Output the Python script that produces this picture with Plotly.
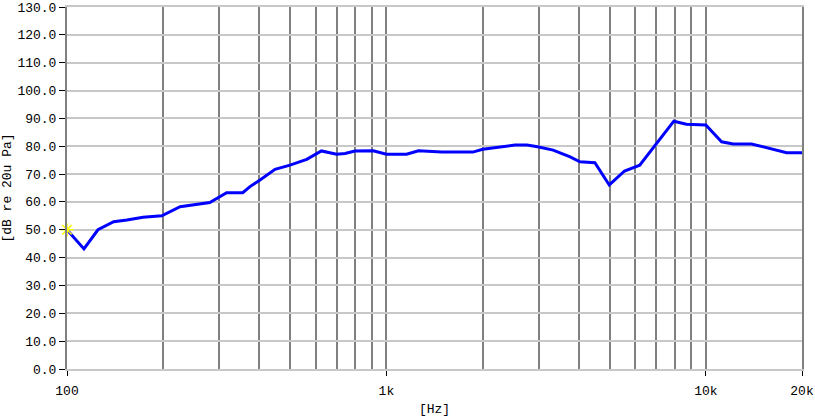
import plotly.graph_objects as go

freq_hz = [100, 113, 125, 140, 154, 173, 198, 226, 280, 316, 355, 374, 402, 448, 499, 563,
           626, 652, 698, 742, 797, 909, 1000, 1156, 1260, 1490, 1864, 2003, 2526, 2755,
           2973, 3326, 3760, 4035, 4494, 4985, 5565, 6208, 6823, 7940, 8690, 10000, 11200,
           12180, 13900, 15500, 17900, 20000]
level_db = [50.0, 43.1, 50.0, 52.9, 53.5, 54.5, 55.0, 58.3, 59.8, 63.3, 63.3, 65.5, 67.9, 71.7,
            73.2, 75.3, 78.3, 77.9, 77.1, 77.4, 78.3, 78.4, 77.1, 77.1, 78.4, 77.9, 77.9,
            78.9, 80.4, 80.4, 79.8, 78.6, 76.2, 74.4, 74.1, 66.1, 71.1, 73.2, 79.2, 89.0,
            87.9, 87.6, 81.6, 80.8, 80.8, 79.5, 77.7, 77.7]

x_major = [100, 1000, 10000, 20000]
x_major_text = ["100", "1k", "10k", "20k"]
x_minor = [200, 300, 400, 500, 600, 700, 800, 900,
           2000, 3000, 4000, 5000, 6000, 7000, 8000, 9000]
y_ticks = [0, 10, 20, 30, 40, 50, 60, 70, 80, 90, 100, 110, 120, 130]
y_tick_text = ["%.1f" % v for v in y_ticks]

fig = go.Figure()
fig.add_trace(go.Scatter(x=freq_hz, y=level_db, mode="lines",
                         line=dict(color="#0000ff", width=3), showlegend=False))
fig.add_trace(go.Scatter(x=[freq_hz[0]], y=[level_db[0]], mode="markers",
                         marker=dict(symbol="asterisk-open", size=11, color="#ffff00",
                                     line=dict(color="#ffff00", width=1.5)),
                         showlegend=False, cliponaxis=False))

font = dict(family="Liberation Mono, DejaVu Sans Mono, monospace", size=13, color="#000000")

fig.update_layout(
    width=815, height=420,
    margin=dict(l=67, r=13, t=7, b=51),
    paper_bgcolor="white", plot_bgcolor="white",
    font=font,
    xaxis=dict(type="log", range=[2, 4.30103], automargin=False,
               tickvals=x_major, ticktext=x_major_text,
               ticks="outside", ticklen=5, tickcolor="#000000", tickwidth=1,
               ticklabelstandoff=4,
               showgrid=True, gridcolor="#808080", gridwidth=1.5,
               minor=dict(tickvals=x_minor, showgrid=True, gridcolor="#808080",
                          gridwidth=1.5, ticks=""),
               showline=True, linecolor="#c8c8c8", linewidth=1.5, mirror=True,
               zeroline=False,
               title=dict(text="[Hz]", font=font, standoff=6)),
    yaxis=dict(range=[0, 130], tickvals=y_ticks, ticktext=y_tick_text, automargin=False,
               ticks="outside", ticklen=6, tickcolor="#000000", tickwidth=1,
               showgrid=True, gridcolor="#c8c8c8", gridwidth=1.5,
               showline=True, linecolor="#808080", linewidth=2, mirror=True,
               zeroline=False,
               title=dict(text="[dB re 20u Pa]", font=font, standoff=6)),
)

fig.write_html("out.html", config={"displayModeBar": False},
               post_script="document.body.style.margin='0px';document.body.style.padding='0px';")
